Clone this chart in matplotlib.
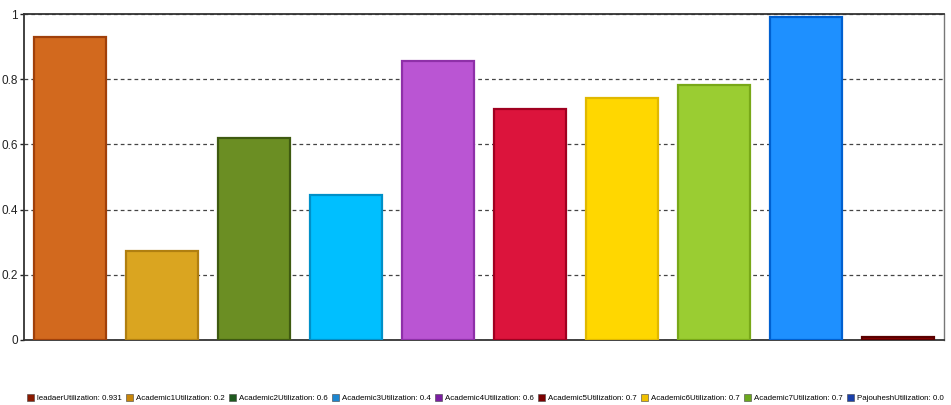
import matplotlib
matplotlib.use("Agg")
import matplotlib.pyplot as plt
from matplotlib.patches import Patch

# -------------------- Data --------------------
names = ["leadaer", "Academic1", "Academic2", "Academic3", "Academic4",
         "Academic5", "Academic6", "Academic7", "Pajouhesh", "Last"]
values = [0.931, 0.273, 0.62, 0.445, 0.856, 0.709, 0.742, 0.782, 0.991, 0.01]
legend_labels = [
    "leadaerUtilization: 0.931",
    "Academic1Utilization: 0.2",
    "Academic2Utilization: 0.6",
    "Academic3Utilization: 0.4",
    "Academic4Utilization: 0.6",
    "Academic5Utilization: 0.7",
    "Academic6Utilization: 0.7",
    "Academic7Utilization: 0.7",
    "PajouheshUtilization: 0.0",
]

# -------------------- Styling --------------------
bar_colors = ["#D2691E", "#DAA520", "#6B8E23", "#00BFFF", "#BA55D3",
              "#DC143C", "#FFD700", "#9ACD32", "#1E90FF", "#8B0000"]
edge_colors = ["#A0400A", "#B07F10", "#3E5A10", "#0090C8", "#8E30A8",
               "#A00020", "#E0B800", "#78A818", "#0060D0", "#5A0000"]
legend_colors = ["#8B1A00", "#C8860A", "#1E5A1E", "#1C86D0", "#7B1FA2",
                 "#7B0000", "#F0C000", "#6CA81E", "#1A3FAA"]

plt.rcParams["font.family"] = ["Liberation Sans", "DejaVu Sans"]

fig = plt.figure(figsize=(9.51, 4.05), dpi=100)
ax = fig.add_axes([0.0252, 0.1605, 0.9674, 0.8049])

x = list(range(len(values)))
ax.bar(x, values, width=0.79, color=bar_colors, edgecolor=edge_colors,
       linewidth=1.6, zorder=3)

ax.set_xlim(-0.5, len(values) - 0.5)
ax.set_ylim(0, 1)
ax.set_yticks([0, 0.2, 0.4, 0.6, 0.8, 1])
ax.set_yticklabels(["0", "0.2", "0.4", "0.6", "0.8", "1"], fontsize=8.5)
ax.set_xticks([])
ax.tick_params(axis="y", length=3, width=1, pad=1.5, colors="#222222")
ax.yaxis.grid(True, linestyle=(0, (3, 2.5)), color="#444444", linewidth=0.9)
ax.set_axisbelow(True)

for side in ["left", "bottom", "top"]:
    ax.spines[side].set_color("#333333")
    ax.spines[side].set_linewidth(1.3)
ax.spines["right"].set_color("#777777")
ax.spines["right"].set_linewidth(1.0)

handles = [Patch(facecolor=c, edgecolor="#444444", linewidth=0.4) for c in legend_colors]
fig.legend(handles, legend_labels, loc="lower left", bbox_to_anchor=(0.023, -0.005),
           ncol=len(handles), frameon=False, fontsize=5.7, handlelength=0.9,
           handleheight=0.9, handletextpad=0.35, columnspacing=0.55,
           borderaxespad=0.2)

fig.savefig("out.png", dpi=100)
